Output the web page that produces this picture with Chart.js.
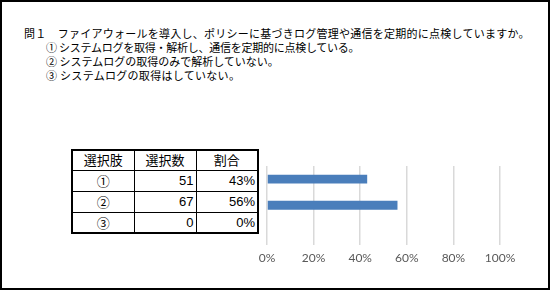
<!DOCTYPE html>
<html><head><meta charset="utf-8">
<script src="https://cdn.jsdelivr.net/npm/chart.js@4/dist/chart.umd.min.js"></script>
<style>
html,body{margin:0;padding:0;background:#fff;}
#frame{position:absolute;left:0;top:0;width:550px;height:290px;box-sizing:border-box;border:2px solid #000;}
#title{position:absolute;left:24px;top:26px;font-family:"Noto Sans CJK JP",sans-serif;font-size:11px;line-height:14px;color:#000;white-space:pre;}
#title .l{height:14px;}
#title .l0{letter-spacing:0.25px;}
#title .ind{padding-left:22px;}
#title .l1{letter-spacing:-0.25px;}
#title .l3{letter-spacing:0.3px;}
#tbl{position:absolute;left:71px;top:149px;border-collapse:collapse;font-family:"Noto Sans CJK JP","Liberation Sans",sans-serif;color:#000;}
#tbl td{border:1px solid #000;padding:0 2px;box-sizing:border-box;width:62px;}
#tbl tr.h td{height:20px;font-size:13px;text-align:center;line-height:18px;}
#tbl tr.r td{height:21px;font-size:13px;line-height:19px;}
#tbl{border:2px solid #000;}
#tbl td.c{text-align:center;font-size:15px;}
#tbl td.n{text-align:right;font-family:"Liberation Sans",sans-serif;}
#wrap{position:absolute;left:0;top:0;width:550px;height:290px;}
</style></head>
<body>
<div id="frame"></div>
<div id="title"></div>
<table id="tbl"></table>
<div id="wrap"><canvas id="c"></canvas></div>
<script>
const questionTitle = "問１　ファイアウォールを導入し、ポリシーに基づきログ管理や通信を定期的に点検していますか。";
const optionTexts = ["① システムログを取得・解析し、通信を定期的に点検している。","② システムログの取得のみで解析していない。","③ システムログの取得はしていない。"];
const headers = ["選択肢","選択数","割合"];
const categories = ["①","②","③"];
const counts = [51,67,0];
const percents = [43,56,0];
const xTicks = [0,20,40,60,80,100];

// title
const t = document.getElementById('title');
let html = '<div class="l l0">'+questionTitle+'</div>';
optionTexts.forEach((s,i)=>{ html += '<div class="l ind l'+(i+1)+'">'+s+'</div>'; });
t.innerHTML = html;

// table
const tb = document.getElementById('tbl');
let th = '<tr class="h">' + headers.map(h=>'<td>'+h+'</td>').join('') + '</tr>';
categories.forEach((c,i)=>{
  th += '<tr class="r"><td class="c">'+c+'</td><td class="n">'+counts[i]+'</td><td class="n">'+percents[i]+'%</td></tr>';
});
tb.innerHTML = th;

new Chart(document.getElementById('c'), {
  type:'bar',
  data:{labels:categories, datasets:[{data:percents, backgroundColor:'#4a7ebb', barPercentage:0.68, categoryPercentage:0.5}]},
  options:{
    indexAxis:'y', responsive:true, maintainAspectRatio:false, animation:false,
    layout:{padding:{left:267,right:50,top:166,bottom:19}},
    plugins:{legend:{display:false},tooltip:{enabled:false}},
    scales:{
      y:{display:false},
      x:{min:0,max:100,border:{display:false},
         grid:{color:'#d9d9d9',lineWidth:1.5,drawTicks:false},
         afterBuildTicks:(s)=>{s.ticks = xTicks.map(v=>({value:v}));},
         ticks:{padding:6,color:'#595959',font:{family:'Lato',size:12},callback:v=>v+'%'}}
    }
  }
});
</script>
</body></html>
